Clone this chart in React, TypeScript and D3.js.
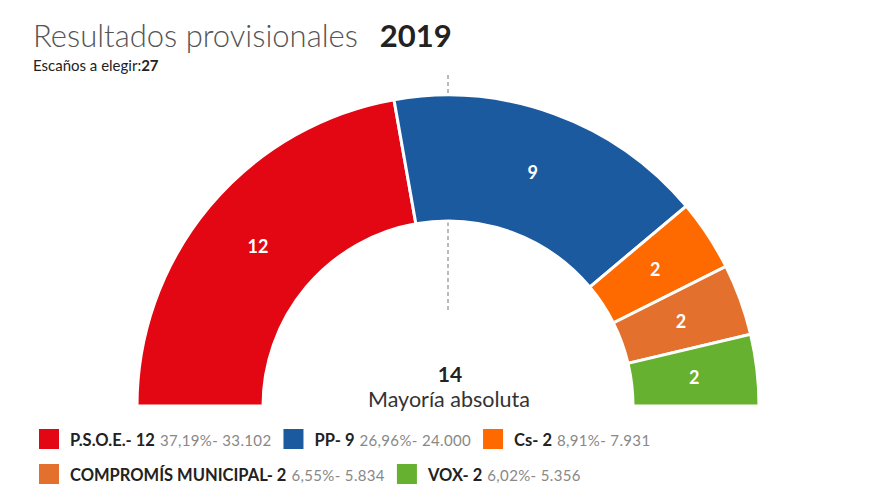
import React, { useEffect, useRef } from "react";
import * as d3 from "d3";

const parties = ["P.S.O.E.", "PP", "Cs", "COMPROMÍS MUNICIPAL", "VOX"];
const seats = [12, 9, 2, 2, 2];
const percents = ["37,19%", "26,96%", "8,91%", "6,55%", "6,02%"];
const votes = ["33.102", "24.000", "7.931", "5.834", "5.356"];
const colors = ["#e30613", "#1c5aa0", "#ff6a00", "#e3702c", "#66b12f"];
const totalSeats = 27;
const majority = 14;
const year = "2019";

export default function App() {
  const ref = useRef<SVGSVGElement | null>(null);

  useEffect(() => {
    const svg = d3.select(ref.current);
    svg.selectAll("*").remove();
    const font = "Lato, 'Open Sans', sans-serif";

    // Title
    const title = svg.append("text").attr("x", 33).attr("y", 47).attr("font-family", font);
    title.append("tspan").attr("font-size", 31).attr("font-weight", 300).attr("fill", "#555").text("Resultados provisionales");
    title.append("tspan").attr("dx", 22).attr("font-size", 31).attr("font-weight", 700).attr("fill", "#222").text(year);

    const sub = svg.append("text").attr("x", 33).attr("y", 71).attr("font-family", font).attr("font-size", 15).attr("fill", "#222");
    sub.append("tspan").text("Escaños a elegir:");
    sub.append("tspan").attr("font-weight", 700).text(String(totalSeats));

    const cx = 448, cy = 406;
    const outerR = 311, innerR = 185;

    // dashed majority line
    svg.append("line")
      .attr("x1", cx).attr("x2", cx).attr("y1", 75).attr("y2", 312)
      .attr("stroke", "#777").attr("stroke-width", 1).attr("stroke-dasharray", "4,3");

    const pie = d3.pie<number>().sort(null).startAngle(-Math.PI / 2).endAngle(Math.PI / 2);
    const arcs = pie(seats);
    const arc = d3.arc<d3.PieArcDatum<number>>().innerRadius(innerR).outerRadius(outerR);

    const g = svg.append("g").attr("transform", `translate(${cx},${cy})`);
    g.selectAll("path.seg")
      .data(arcs)
      .enter()
      .append("path")
      .attr("class", "seg")
      .attr("d", arc as any)
      .attr("fill", (_d, i) => colors[i])
      .attr("stroke", "#fff")
      .attr("stroke-width", 3)
      .attr("stroke-linejoin", "miter");

    g.selectAll("text.lbl")
      .data(arcs)
      .enter()
      .append("text")
      .attr("class", "lbl")
      .attr("transform", (d) => `translate(${arc.centroid(d)})`)
      .attr("text-anchor", "middle")
      .attr("dy", "0.36em")
      .attr("font-family", font)
      .attr("font-weight", 700)
      .attr("font-size", 18)
      .attr("fill", "#fff")
      .text((d) => String(d.data));

    // center labels
    svg.append("text").attr("x", cx + 2).attr("y", 382).attr("text-anchor", "middle")
      .attr("font-family", font).attr("font-weight", 700).attr("font-size", 21).attr("fill", "#222").text(String(majority));
    svg.append("text").attr("x", cx + 1).attr("y", 407).attr("text-anchor", "middle")
      .attr("font-family", font).attr("font-size", 21.5).attr("fill", "#333").text("Mayoría absoluta");

    // legend
    const rows = [[0, 1, 2], [3, 4]];
    const rowY = [446, 481];
    rows.forEach((row, ri) => {
      let x = 39;
      row.forEach((i) => {
        svg.append("rect").attr("x", x).attr("y", rowY[ri] - 17).attr("width", 20).attr("height", 20).attr("fill", colors[i]);
        x += 31;
        const t1 = svg.append("text").attr("x", x).attr("y", rowY[ri]).attr("font-family", font)
          .attr("font-weight", 700).attr("font-size", 16.5).attr("fill", "#222")
          .text(`${parties[i]}- ${seats[i]}`);
        x += (t1.node() as SVGTextElement).getComputedTextLength() + 5;
        const t2 = svg.append("text").attr("x", x).attr("y", rowY[ri]).attr("font-family", font)
          .attr("font-weight", 400).attr("font-size", 15).attr("fill", "#888").attr("letter-spacing", 0.35)
          .text(`${percents[i]}- ${votes[i]}`);
        x += (t2.node() as SVGTextElement).getComputedTextLength() + 12;
      });
    });
  }, []);

  return (
    <svg ref={ref} width={880} height={495} style={{ position: "absolute", left: 0, top: 0, background: "#fff" }} />
  );
}
